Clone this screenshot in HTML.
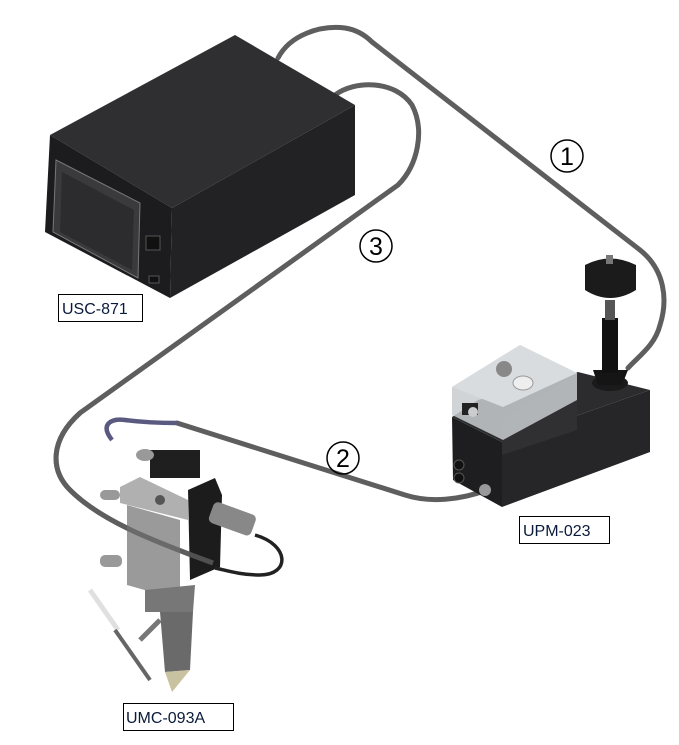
<!DOCTYPE html>
<html><head><meta charset="utf-8"><style>
html,body{margin:0;padding:0;background:#fff;}
svg{display:block}
.lbl{font-family:"Liberation Sans",sans-serif;font-size:16px;fill:#0a1a3a}
.num{font-family:"Liberation Sans",sans-serif;font-size:25px;fill:#000}
</style></head><body>
<svg width="679" height="745" viewBox="0 0 679 745" xmlns="http://www.w3.org/2000/svg">
<g fill="none" stroke="#5e5e5e" stroke-width="5" stroke-linecap="round">
<path d="M278,58 C290,35 320,25 345,28 C358,30 366,36 372,42 L640,250 C665,270 668,300 660,325 C655,345 640,355 628,368"/>
<path d="M335,95 C355,80 395,80 412,105 C425,130 418,165 398,185 L80,413 C50,440 50,470 70,490 C100,520 150,540 213,563"/>
<path d="M177,423 L405,495 C430,503 460,500 487,490"/>
</g>
<path d="M112,440 C100,425 110,418 125,420 C140,422 160,423 177,423" fill="none" stroke="#5a5a80" stroke-width="4.5"/>
<polygon points="50,135 235,35 355,105 172,208" fill="#2f2f31"/>
<polygon points="172,208 355,105 355,195 170,298" fill="#222224"/>
<polygon points="50,135 172,208 170,298 45,232" fill="#1c1c1e"/>
<polygon points="56,160 140,203 138,278 53,232" fill="#3a3a3c" stroke="#777" stroke-width="1"/>
<polygon points="62,172 134,210 132,270 60,232" fill="#2c2c2e"/>
<rect x="146" y="236" width="14" height="14" fill="#111" stroke="#555"/>
<rect x="149" y="276" width="10" height="7" fill="#111" stroke="#555"/>
<polygon points="502,442 650,390 650,452 502,507" fill="#262628"/>
<polygon points="452,417 502,442 502,507 453,480" fill="#1e1e20"/>
<polygon points="478,400 578,372 650,390 502,442 452,417" fill="#2c2c2e"/>
<polygon points="577,373 577,430 502,455 502,420" fill="#303032"/>
<polygon points="452,387 520,345 577,373 577,400 503,440 452,415" fill="#c8cccf" opacity="0.85"/>
<polygon points="452,387 520,345 577,373 503,407" fill="#d9dcde"/>
<circle cx="504" cy="369" r="8" fill="#888"/>
<ellipse cx="523" cy="383" rx="10" ry="7" fill="#eee" stroke="#999"/>
<rect x="462" y="403" width="16" height="12" fill="#222"/>
<circle cx="473" cy="412" r="5" fill="#ccc"/>
<circle cx="459" cy="465" r="5" fill="#111" stroke="#555"/>
<circle cx="459" cy="478" r="5" fill="#111" stroke="#555"/>
<circle cx="485" cy="490" r="6" fill="#999"/>
<ellipse cx="610" cy="383" rx="18" ry="8" fill="#1a1a1a"/>
<path d="M593,370 L628,370 L622,385 L598,385 Z" fill="#151515"/>
<rect x="602" y="318" width="16" height="55" fill="#111"/>
<rect x="605" y="300" width="10" height="20" fill="#555"/>
<path d="M585,265 Q610,252 636,265 L636,290 Q610,306 585,290 Z" fill="#1b1b1b"/>
<rect x="606" y="255" width="7" height="9" fill="#777"/>
<polygon points="150,450 200,450 200,478 150,478" fill="#1f1f1f"/>
<ellipse cx="145" cy="455" rx="9" ry="6" fill="#999"/>
<polygon points="127,505 180,520 180,600 127,585" fill="#9a9a9a"/>
<polygon points="120,487 140,477 188,500 188,520 120,503" fill="#b0b0b0"/>
<circle cx="160" cy="500" r="5" fill="#555"/>
<polygon points="188,490 215,478 222,495 220,567 190,580" fill="#1c1c1c"/>
<rect x="210" y="507" width="45" height="22" rx="5" fill="#888" transform="rotate(20 230 518)"/>
<path d="M255,535 C290,545 290,575 260,575 C240,575 225,570 215,568" fill="none" stroke="#222" stroke-width="3.5"/>
<rect x="100" y="555" width="22" height="12" rx="5" fill="#999"/>
<rect x="100" y="490" width="20" height="10" rx="5" fill="#999"/>
<polygon points="145,590 195,585 193,612 145,612" fill="#777"/>
<polygon points="160,612 193,612 190,670 165,672" fill="#6a6a6a"/>
<polygon points="165,672 190,670 172,692" fill="#c9c2a0"/>
<path d="M90,590 L118,630" stroke="#e0e0e0" stroke-width="5" fill="none"/>
<path d="M115,630 L150,680" stroke="#666" stroke-width="4" fill="none"/>
<path d="M140,640 L160,620" stroke="#777" stroke-width="5" fill="none"/>
<path d="M80,413 C50,440 50,470 70,490 C100,520 150,540 213,563" fill="none" stroke="#5e5e5e" stroke-width="5" opacity="0.8"/>
<circle cx="567" cy="156" r="16" fill="none" stroke="#000" stroke-width="1.5"/>
<text x="567" y="165" class="num" text-anchor="middle">1</text>
<circle cx="376" cy="246" r="16" fill="none" stroke="#000" stroke-width="1.5"/>
<text x="376" y="255" class="num" text-anchor="middle">3</text>
<circle cx="343" cy="458" r="16" fill="none" stroke="#000" stroke-width="1.5"/>
<text x="343" y="467" class="num" text-anchor="middle">2</text>
<rect x="58.5" y="294.5" width="84" height="27" fill="#fff" stroke="#000"/>
<text x="62" y="314" class="lbl">USC-871</text>
<rect x="519.5" y="516.5" width="90" height="27" fill="#fff" stroke="#000"/>
<text x="523" y="536" class="lbl">UPM-023</text>
<rect x="123.5" y="703.5" width="110" height="27" fill="#fff" stroke="#000"/>
<text x="126" y="723" class="lbl">UMC-093A</text>
</svg>
</body></html>
